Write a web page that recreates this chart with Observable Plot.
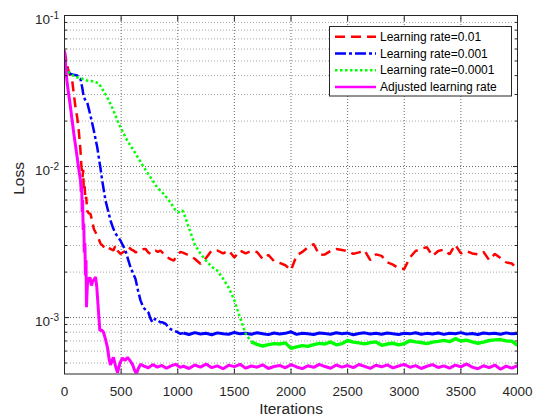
<!DOCTYPE html>
<html><head><meta charset="utf-8">
<script src="https://cdn.jsdelivr.net/npm/d3@7"></script>
<script src="https://cdn.jsdelivr.net/npm/@observablehq/plot@0.6"></script>
<style>
html,body{margin:0;padding:0;background:#fff;}
#chart{width:534px;height:419px;}
</style></head><body><div id="chart"></div>
<script>
// ---- axis ticks ----
const xTicks = [0, 500, 1000, 1500, 2000, 2500, 3000, 3500, 4000];
const yMajorTicks = [0.001, 0.01, 0.1];
const yMinorTicks = [0.0005, 0.0006, 0.0007, 0.0008, 0.0009,
  0.002, 0.003, 0.004, 0.005, 0.006, 0.007, 0.008, 0.009,
  0.02, 0.03, 0.04, 0.05, 0.06, 0.07, 0.08, 0.09];

// ---- series ----
const seriesNames = ["Learning rate=0.01", "Learning rate=0.001", "Learning rate=0.0001", "Adjusted learning rate"];
const seriesColors = ["#ff0000", "#0000ff", "#00ff00", "#ff00ff"];

const tailIters = [1050,1100,1150,1200,1250,1300,1350,1400,1450,1500,1550,1600,1650,1700,1750,1800,1850,1900,1950,2000,
  2050,2100,2150,2200,2250,2300,2350,2400,2450,2500,2550,2600,2650,2700,2750,2800,2850,2900,2950,3000,
  3050,3100,3150,3200,3250,3300,3350,3400,3450,3500,3550,3600,3650,3700,3750,3800,3850,3900,3950,4000];

// Learning rate = 0.01
const redHeadIters = [0,20,38,55,68,82,97,112,126,141,150,159,165,170,178,185,192,200,215,229,244,259,274,296,318,340,362,377,406,432,450,470,494,520,545,567,590,609,630,653,690,715,740,759,780,803,825,847,880,906,935,965,995,1024];
const redHeadLoss = [0.0586,0.048,0.0422,0.039,0.0371,0.0303,0.0247,0.0212,0.0173,0.0128,0.0099,0.0085,0.0095,0.0069,0.0074,0.0060,0.0063,0.0051,0.0049,0.00486,0.00439,0.00386,0.00367,0.0034,0.00309,0.00298,0.00285,0.00292,0.00285,0.00278,0.0030,0.00276,0.00264,0.00272,0.00275,0.00292,0.00282,0.00278,0.0027,0.00278,0.00283,0.00285,0.0027,0.00264,0.00272,0.00278,0.00272,0.00278,0.00262,0.00251,0.00244,0.00238,0.0026,0.00272];
const redTailLoss = [0.00268,0.00258,0.00245,0.00227,0.00248,0.00278,0.00278,0.00266,0.00278,0.00250,0.00278,0.00266,0.00276,0.00272,0.00244,0.00260,0.00236,0.00230,0.00222,0.00206,
  0.00258,0.00272,0.00292,0.00306,0.00260,0.00262,0.00276,0.00284,0.00280,0.00276,0.00264,0.00270,0.00278,0.00240,0.00262,0.00256,0.00232,0.00224,0.00212,0.00210,
  0.00250,0.00276,0.00286,0.00292,0.00256,0.00276,0.00282,0.00262,0.00304,0.00266,0.00276,0.00266,0.00262,0.00272,0.00240,0.00264,0.00248,0.00232,0.00228,0.00210];

// Learning rate = 0.001
const blueHeadIters = [0,9,30,53,80,112,141,156,170,185,200,229,259,289,318,333,362,385,406,430,450,494,538,583,627,650,671,697,720,741,760,777,800,821,845,865,892,915,936,965,998,1024];
const blueHeadLoss = [0.0569,0.0459,0.043,0.0411,0.0405,0.0401,0.0381,0.0335,0.0288,0.0275,0.0267,0.0218,0.0173,0.0134,0.0097,0.00807,0.00596,0.0051,0.00439,0.0039,0.0036,0.00324,0.00278,0.00215,0.0018,0.0015,0.0013,0.00116,0.00112,0.00108,0.00098,0.00093,0.00098,0.00097,0.00093,0.00093,0.00091,0.00087,0.00084,0.00082,0.0008,0.00078];
const blueTailLoss = [0.000790,0.000772,0.000795,0.000778,0.000788,0.000770,0.000792,0.000781,0.000775,0.000797,0.000780,0.000788,0.000776,0.000793,0.000782,0.000771,0.000790,0.000779,0.000786,0.000805,
  0.000774,0.000788,0.000780,0.000772,0.000791,0.000783,0.000776,0.000794,0.000781,0.000789,0.000770,0.000785,0.000792,0.000778,0.000787,0.000775,0.000790,0.000782,0.000773,0.000788,
  0.000780,0.000793,0.000776,0.000786,0.000779,0.000791,0.000774,0.000787,0.000782,0.000795,0.000777,0.000785,0.000772,0.000790,0.000781,0.000788,0.000775,0.000792,0.000780,0.000786];

// Learning rate = 0.0001
const greenHeadIters = [0,9,30,53,80,112,156,200,259,303,333,377,432,479,553,627,700,759,818,876,935,980,1009,1039];
const greenHeadLoss = [0.057,0.0455,0.0425,0.0411,0.0398,0.039,0.0381,0.0371,0.0367,0.0355,0.0327,0.0288,0.0235,0.0192,0.0149,0.0122,0.00989,0.00849,0.00729,0.00659,0.0058,0.00512,0.00498,0.00512];
const greenTailLoss = [0.00500,0.00390,0.00305,0.00265,0.00238,0.00217,0.00204,0.00181,0.00158,0.00130,0.00100,0.00078,0.00069,0.000665,0.000648,0.000662,0.000672,0.000668,0.000680,0.000625,
  0.000640,0.000652,0.000645,0.000662,0.000675,0.000668,0.000690,0.000660,0.000672,0.000705,0.000688,0.000680,0.000670,0.000682,0.000690,0.000655,0.000668,0.000676,0.000660,0.000672,
  0.000702,0.000690,0.000684,0.000672,0.000688,0.000695,0.000706,0.000692,0.000725,0.000700,0.000708,0.000690,0.000676,0.000688,0.000705,0.000712,0.000715,0.000700,0.000698,0.000655];

// Adjusted learning rate
const magHeadIters = [0,12,24,40,53,68,82,97,112,126,141,148,152,156,160,165,170,175,180,185,190,194,198,205,212,225,238,250,262,274,285,300,312,328,344,362,380,394,406,420,432,450,468,490,512,534,556,578,600,618,635,652,671,700,740,780,820,860,900,940,980,1020];
const magHeadLoss = [0.0586,0.044,0.0353,0.029,0.0247,0.020,0.0166,0.0138,0.0115,0.0096,0.0081,0.0068,0.0075,0.0050,0.0060,0.0038,0.0042,0.0027,0.0031,0.0019,0.0024,0.00117,0.0014,0.00185,0.00172,0.00185,0.00163,0.00175,0.00178,0.00186,0.0016,0.0011,0.00082,0.00083,0.0008,0.00072,0.00063,0.00053,0.000485,0.00052,0.000545,0.00048,0.000432,0.0005,0.00054,0.00052,0.000545,0.00052,0.00049,0.00045,0.000425,0.00046,0.000489,0.000478,0.000465,0.000488,0.00047,0.000482,0.000462,0.000479,0.00049,0.000468];
const magTailLoss = [0.000476,0.000460,0.000485,0.000470,0.000492,0.000466,0.000479,0.000458,0.000484,0.000473,0.000490,0.000462,0.000478,0.000469,0.000487,0.000460,0.000474,0.000482,0.000465,0.000488,
  0.000471,0.000459,0.000480,0.000468,0.000490,0.000474,0.000462,0.000485,0.000470,0.000481,0.000466,0.000489,0.000475,0.000461,0.000483,0.000472,0.000486,0.000464,0.000478,0.000490,
  0.000469,0.000481,0.000460,0.000476,0.000488,0.000467,0.000479,0.000463,0.000484,0.000472,0.000493,0.000470,0.000458,0.000480,0.000466,0.000485,0.000455,0.000477,0.000462,0.000481];

// ---- build tables ----
function build(headIters, headLoss, tailLoss) {
  const rows = headIters.map((it, i) => ({iter: it, loss: headLoss[i]}));
  tailIters.forEach((it, i) => rows.push({iter: it, loss: tailLoss[i]}));
  return rows;
}
const red = build(redHeadIters, redHeadLoss, redTailLoss);
const blue = build(blueHeadIters, blueHeadLoss, blueTailLoss);
const green = build(greenHeadIters, greenHeadLoss, greenTailLoss);
const mag = build(magHeadIters, magHeadLoss, magTailLoss);

const dashes = ["10,6", "11,3,3,3", "2.5,2.5", null];
const axisColor = "#262626";
const lineOpts = {x: "iter", y: "loss", clip: true, strokeLinecap: "butt", strokeLinejoin: "miter"};

const chart = Plot.plot({
  width: 534, height: 419,
  marginLeft: 64, marginRight: 17, marginTop: 15, marginBottom: 45.5,
  style: {fontFamily: "'Liberation Sans', Arial, Helvetica, sans-serif", fontSize: "13.5px", color: axisColor, background: "#fff", overflow: "visible"},
  x: {type: "linear", domain: [0, 4000]},
  y: {type: "log", domain: [4.23e-4, 0.1]},
  marks: [
    Plot.gridY(yMinorTicks, {stroke: "#000", strokeOpacity: 0.35, strokeDasharray: "1,2"}),
    Plot.gridY(yMajorTicks.slice(0, 2), {stroke: "#000", strokeOpacity: 0.6, strokeDasharray: "1,2"}),
    Plot.gridX(xTicks.slice(1, -1), {stroke: "#000", strokeOpacity: 0.6, strokeDasharray: "1,2"}),
    // lr 0.01
    Plot.line(red, {...lineOpts, stroke: seriesColors[0], strokeWidth: 2.5, strokeDasharray: dashes[0]}),
    // lr 0.001
    Plot.line(blue.filter(d => d.iter <= 1050), {...lineOpts, stroke: seriesColors[1], strokeWidth: 2.5, strokeDasharray: dashes[1]}),
    Plot.line(blue.filter(d => d.iter >= 1050), {...lineOpts, stroke: seriesColors[1], strokeWidth: 3}),
    // lr 0.0001
    Plot.line(green.filter(d => d.iter <= 1650), {...lineOpts, stroke: seriesColors[2], strokeWidth: 2.5, strokeDasharray: dashes[2]}),
    Plot.line(green.filter(d => d.iter >= 1650), {...lineOpts, stroke: seriesColors[2], strokeWidth: 3.4}),
    // adjusted
    Plot.line(mag, {...lineOpts, stroke: seriesColors[3], strokeWidth: 3}),
    Plot.frame({stroke: axisColor}),
    // ticks (inward)
    Plot.axisX({ticks: xTicks, anchor: "bottom", tickSize: -5, fill: "none", label: null, stroke: axisColor}),
    Plot.axisX({ticks: xTicks, anchor: "top", tickSize: -5, fill: "none", label: null, stroke: axisColor}),
    Plot.axisY({ticks: yMajorTicks, anchor: "left", tickSize: -5, fill: "none", label: null, stroke: axisColor}),
    Plot.axisY({ticks: yMinorTicks, anchor: "left", tickSize: -3, fill: "none", label: null, stroke: axisColor}),
    Plot.axisY({ticks: yMajorTicks, anchor: "right", tickSize: -5, fill: "none", label: null, stroke: axisColor}),
    Plot.axisY({ticks: yMinorTicks, anchor: "right", tickSize: -3, fill: "none", label: null, stroke: axisColor}),
    // tick labels
    Plot.axisX({ticks: xTicks, anchor: "bottom", tickSize: 0, tickPadding: 12, label: null, tickFormat: d => String(d), fill: axisColor}),
    Plot.axisY({ticks: yMajorTicks, anchor: "left", tickSize: 0, tickPadding: 5.5, label: null, tickFormat: d => "10^" + Math.round(Math.log10(d)), fill: axisColor}),
    // axis titles
    Plot.text(["Iterations"], {frameAnchor: "bottom", dy: 35.5, fontSize: 15.5, lineAnchor: "middle", fill: axisColor}),
    Plot.text(["Loss"], {frameAnchor: "left", dx: -45.7, rotate: -90, fontSize: 15.5, lineAnchor: "middle", fill: axisColor})
  ]
});

const svg = d3.select(chart);
// superscript exponents for log ticks
svg.selectAll('g[aria-label="y-axis tick label"] text').each(function () {
  const t = this.textContent;
  if (!t.includes("^")) return;
  const [b, e] = t.split("^");
  const s = d3.select(this);
  s.text(null).attr("y", "0.62em");
  s.append("tspan").text(b);
  s.append("tspan").attr("dy", "-5").attr("font-size", "10px").text(e);
});

// legend
const lg = svg.append("g").attr("font-size", "12px").attr("fill", "#000").attr("text-anchor", "start");
lg.append("rect").attr("x", 329.5).attr("y", 26.5).attr("width", 182).attr("height", 69.5)
  .attr("fill", "#fff").attr("stroke", axisColor).attr("stroke-width", 1);
seriesNames.forEach((name, i) => {
  const y = 36.8 + i * 16.7;
  const ln = lg.append("line").attr("x1", 335).attr("x2", 376).attr("y1", y).attr("y2", y)
    .attr("stroke", seriesColors[i]).attr("stroke-width", 2.5).attr("stroke-linecap", "butt");
  if (dashes[i]) ln.attr("stroke-dasharray", dashes[i]);
  lg.append("text").attr("x", 380).attr("y", y).attr("dy", "0.35em").attr("text-anchor", "start").text(name);
});

document.getElementById("chart").appendChild(chart);
</script>
</body></html>
